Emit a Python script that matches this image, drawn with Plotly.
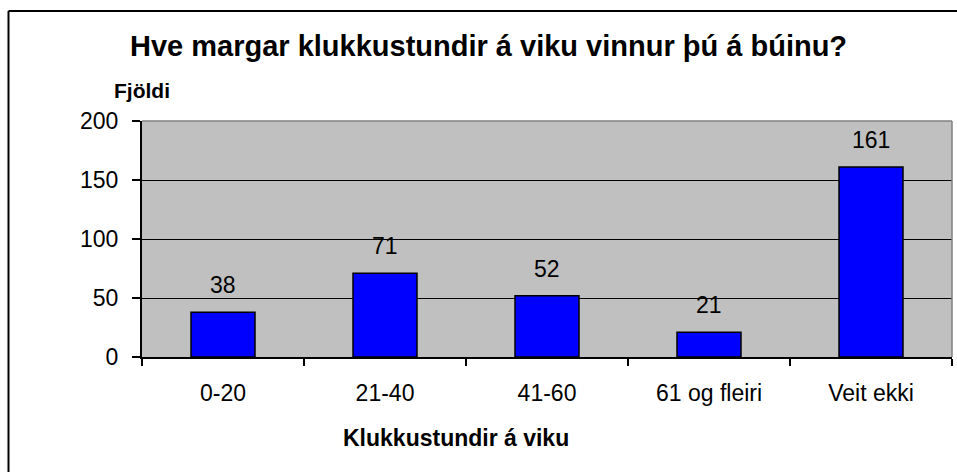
import plotly.graph_objects as go

categories = ["0-20", "21-40", "41-60", "61 og fleiri", "Veit ekki"]
values = [38, 71, 52, 21, 161]
y_ticks = [0, 50, 100, 150, 200]
title_text = "Hve margar klukkustundir á viku vinnur þú á búinu?"
y_title = "Fjöldi"
x_title = "Klukkustundir á viku"

W, H = 957, 472
ML, MR, MT, MB = 142, 5, 121, 115
PW = W - ML - MR
PH = H - MT - MB
FONT = "Liberation Sans, Arial, sans-serif"
TICK_SIZE = 23


def px(x):
    return (x - ML) / PW


def py(y):
    return (H - MB - y) / PH


fig = go.Figure()
fig.add_trace(go.Bar(
    x=categories, y=values,
    marker=dict(color="#0000FF", line=dict(color="#000000", width=1.5)),
    hoverinfo="x+y",
))

annotations = []
for c, v in zip(categories, values):
    annotations.append(dict(
        x=c, y=v, xref="x", yref="y", text=str(v), showarrow=False,
        yanchor="bottom", yshift=12, font=dict(family=FONT, size=TICK_SIZE, color="#000000"),
    ))

annotations += [
    dict(x=px(488), y=py(46), xref="paper", yref="paper", text="<b>" + title_text + "</b>",
         showarrow=False, xanchor="center", yanchor="middle",
         font=dict(family=FONT, size=29, color="#000000")),
    dict(x=px(141.5), y=py(91), xref="paper", yref="paper", text="<b>" + y_title + "</b>",
         showarrow=False, xanchor="center", yanchor="middle",
         font=dict(family=FONT, size=21, color="#000000")),
    dict(x=px(455.5), y=py(438), xref="paper", yref="paper", text="<b>" + x_title + "</b>",
         showarrow=False, xanchor="center", yanchor="middle",
         font=dict(family=FONT, size=23, color="#000000")),
]

shapes = [
    # outer chart border (left and top visible)
    dict(type="line", xref="paper", yref="paper", x0=px(8.5), x1=px(8.5), y0=py(480), y1=py(11),
         line=dict(color="#000000", width=2)),
    dict(type="line", xref="paper", yref="paper", x0=px(8.5), x1=px(965), y0=py(11), y1=py(11),
         line=dict(color="#000000", width=2)),
    # plot area top/right border in gray
    dict(type="line", xref="paper", yref="paper", x0=0, x1=1, y0=1, y1=1,
         line=dict(color="#808080", width=1.5), layer="above"),
    dict(type="line", xref="paper", yref="paper", x0=1, x1=1, y0=0, y1=1,
         line=dict(color="#808080", width=1.5), layer="above"),
]

fig.update_layout(
    width=W, height=H,
    margin=dict(l=ML, r=MR, t=MT, b=MB, pad=0),
    paper_bgcolor="#FFFFFF", plot_bgcolor="#C0C0C0",
    bargap=0.605,
    showlegend=False,
    font=dict(family=FONT, size=TICK_SIZE, color="#000000"),
    annotations=annotations,
    shapes=shapes,
    xaxis=dict(
        type="category", showgrid=False, showline=True, linecolor="#000000", linewidth=2,
        ticks="outside", tickson="boundaries", ticklen=7, tickwidth=1.5, tickcolor="#000000",
        tickfont=dict(family=FONT, size=TICK_SIZE, color="#000000"), ticklabelstandoff=14,
        zeroline=False, fixedrange=True,
    ),
    yaxis=dict(
        range=[0, 200], tickvals=y_ticks, ticktext=[str(t) for t in y_ticks],
        showgrid=True, gridcolor="#000000", gridwidth=1.2,
        showline=True, linecolor="#000000", linewidth=2,
        ticks="outside", ticklen=8, tickwidth=1.5, tickcolor="#000000",
        tickfont=dict(family=FONT, size=TICK_SIZE, color="#000000"), ticklabelstandoff=9,
        zeroline=False, fixedrange=True,
    ),
)

fig.write_html(
    "out.html",
    config={"displayModeBar": False},
    post_script="document.body.style.margin='0';document.body.style.overflow='hidden';",
)
